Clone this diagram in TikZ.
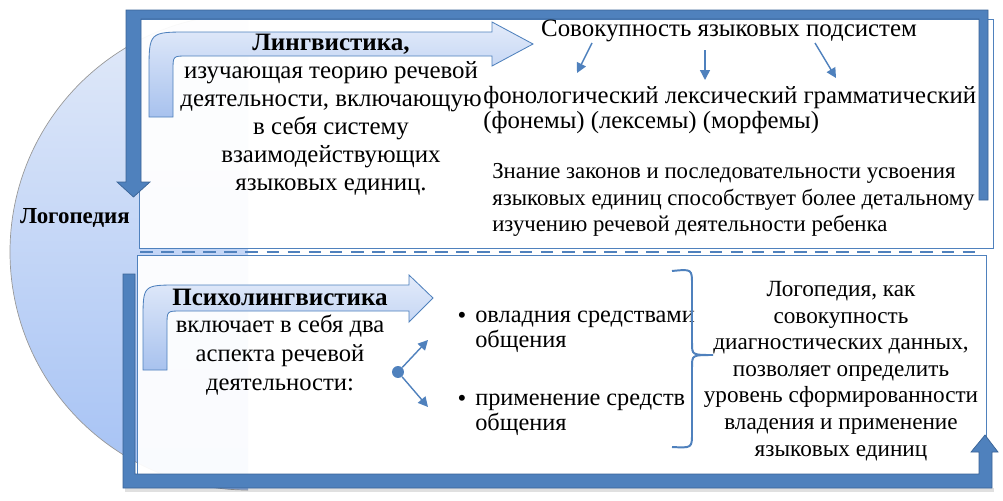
\documentclass[tikz,border=0pt]{standalone}
\usepackage{fontspec}
\setmainfont{Liberation Serif}
\usetikzlibrary{arrows.meta}
\definecolor{barblue}{HTML}{4F81BD}
\definecolor{bardark}{HTML}{3A6396}
\definecolor{arrtop}{HTML}{E3EBFA}
\definecolor{arrbot}{HTML}{A8C2EE}
\definecolor{circtop}{HTML}{E2EAF9}
\definecolor{circbot}{HTML}{A4C1F4}
\begin{document}
\begin{tikzpicture}[x=0.025cm,y=-0.025cm,
  bar/.style={fill=barblue,draw=bardark,line width=0.5pt},
  bent/.style={top color=arrtop,bottom color=arrbot,draw=barblue,line width=0.6pt},
  frame/.style={fill=white,fill opacity=0.94,draw=barblue,line width=0.6pt},
  txt/.style={align=center,inner sep=0pt,font=\fontsize{17.7}{19.9}\selectfont},
  btxt/.style={inner sep=0pt,font=\fontsize{17.8}{19.9}\selectfont\bfseries},
  sub/.style={-{Triangle[length=7pt,width=7pt]},barblue,line width=1pt}]
\useasboundingbox (0,0) rectangle (1003,500);

% half circle behind the frame
\begin{scope}
\clip (0,0) rectangle (248,500);
\shade[top color=circtop,bottom color=circbot,draw=gray!80,line width=0.5pt] (248,252) circle (238);
\end{scope}

% white panels
\path[frame] (139,19) rectangle (993,248);
\path[frame] (137,255) rectangle (986,476);
\draw[barblue,line width=1.8pt,dash pattern=on 9pt off 6pt] (140,252) -- (982,252);

% upper frame arrow
\path[bar] (988,200) -- (988,10) -- (126,10) -- (126,182) -- (117,182) -- (133.5,197)
  -- (150,182) -- (141,182) -- (141,19) -- (979,19) -- (979,200) -- cycle;
% lower frame arrow
\fill[black,opacity=0.12] (125,488) rectangle (994,492);
\path[bar] (123,274) -- (123,488) -- (992,488) -- (992,452) -- (998,452) -- (985,435)
  -- (971,452) -- (979,452) -- (979,474) -- (135,474) -- (135,274) -- cycle;

% bent arrows
\path[bent] (149,117) -- (149,72) .. controls (149,32) .. (189,32) -- (492,32) -- (492,22)
  -- (533,44) -- (492,66) -- (492,56) -- (187,56) .. controls (173,56) .. (173,70)
  -- (173,117) -- cycle;
\path[bent] (143,370) -- (143,320) .. controls (143,285) .. (178,285) -- (409,285) -- (409,275)
  -- (433,298) -- (409,322) -- (409,311) -- (181,311) .. controls (167,311) .. (167,325)
  -- (167,370) -- cycle;

% texts
\node[btxt,font=\fontsize{16.3}{19.9}\selectfont\bfseries] (logo) at (75,218) {Логопедия};
\node[btxt] (ling) at (331,44) {Лингвистика,};
\node[txt] (lingtxt) at (331,128) {изучающая теорию речевой\\деятельности, включающую\\в себя систему\\взаимодействующих\\языковых единиц.};
\node[txt] (sov) at (729,31) {Совокупность языковых подсистем};
\node[txt,align=left,anchor=west,font=\fontsize{17.6}{18.4}\selectfont] (subsys) at (483,110)
  {фонологический лексический грамматический\\(фонемы) (лексемы) (морфемы)};
\node[txt,align=left,anchor=west,font=\fontsize{16.2}{19.1}\selectfont] (znan) at (492,200)
  {Знание законов и последовательности усвоения\\языковых единиц способствует более детальному\\изучению речевой деятельности ребенка};

\node[btxt] (psy) at (280,297) {Психолингвистика};
\node[txt,font=\fontsize{17.5}{20.5}\selectfont] (psytxt) at (280,355) {включает в себя два\\аспекта речевой\\деятельности:};
\node[txt] (dot1) at (462,318) {•};
\node[txt,align=left,anchor=west,font=\fontsize{17.3}{18}\selectfont] (asp1) at (475,332) {овладния средствами\\общения};
\node[txt] (dot2) at (462,401) {•};
\node[txt,align=left,anchor=west,font=\fontsize{17.3}{18}\selectfont] (asp2) at (475,415) {применение средств\\общения};
\node[txt,font=\fontsize{16.5}{18.9}\selectfont] (concl) at (841,371) {Логопедия, как\\совокупность\\диагностических данных,\\позволяет определить\\уровень сформированности\\владения и применение\\языковых единиц};

% small arrows
\coordinate (s1) at (592,43);  \coordinate (e1) at (577,73);
\coordinate (s2) at (705,50);  \coordinate (e2) at (705,80);
\coordinate (s3) at (815,43);  \coordinate (e3) at (836,78);
\draw[sub] (s1) -- (e1);
\draw[sub] (s2) -- (e2);
\draw[sub] (s3) -- (e3);
\node[circle,fill=barblue,inner sep=0pt,minimum size=8.5pt] (fork) at (398,372) {};
\coordinate (up) at (428,340);
\coordinate (dn) at (428,407);
\draw[sub] (fork) -- (up);
\draw[sub] (fork) -- (dn);

% brace
\draw[barblue,line width=1.4pt] (672,271) .. controls (692,269) .. (692,285) -- (692,343)
  .. controls (692,355) .. (713,355) .. controls (692,355) .. (692,367) -- (692,433)
  .. controls (692,448) .. (672,447);
\end{tikzpicture}
\end{document}
